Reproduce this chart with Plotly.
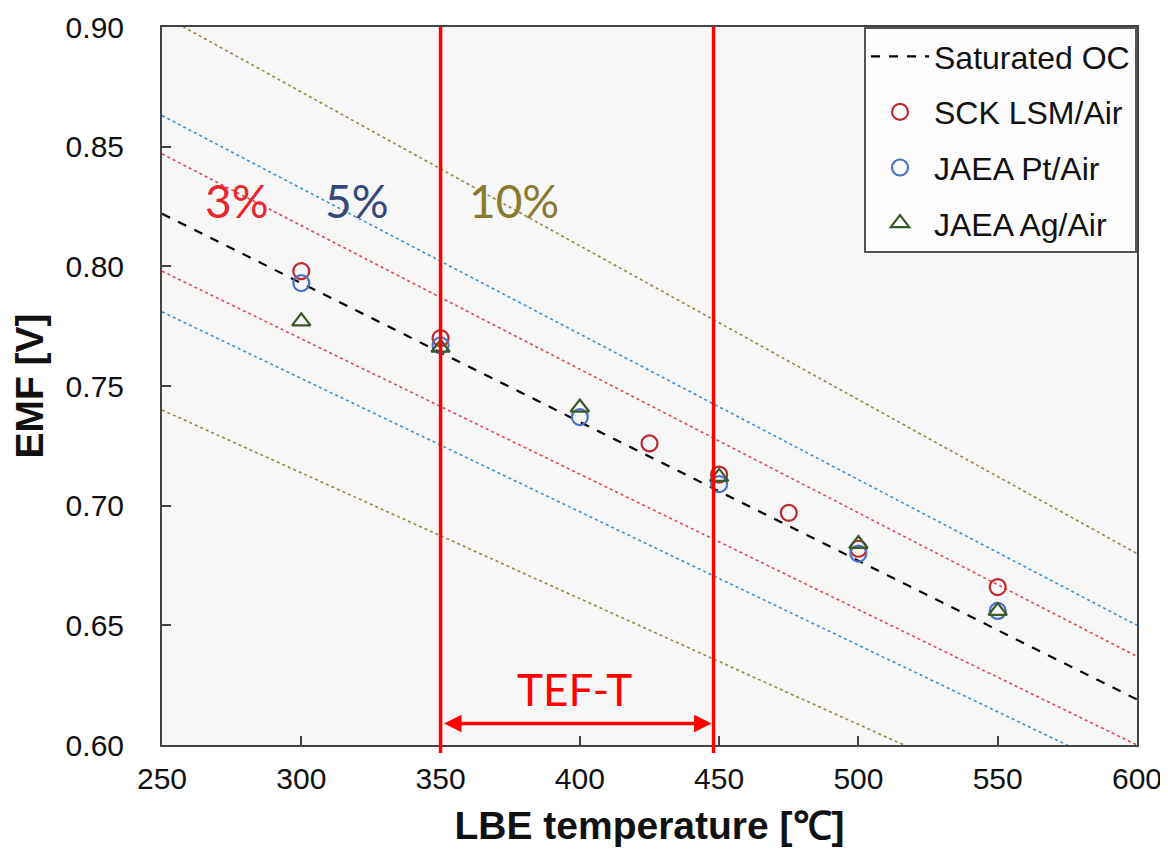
import plotly.graph_objects as go

# ---- data ----
temp_ends = [250, 600]
sat_oc = [0.822, 0.619]
band_3_up = [0.847, 0.637]
band_3_lo = [0.798, 0.600]
band_5_up = [0.863, 0.650]
band_5_lo = [0.781, 0.586]
band_10_up = [0.905, 0.680]
band_10_lo = [0.740, 0.556]

sck_t = [300, 350, 425, 450, 475, 500, 550]
sck_emf = [0.798, 0.770, 0.726, 0.713, 0.697, 0.682, 0.666]
pt_t = [300, 350, 400, 450, 500, 550]
pt_emf = [0.793, 0.767, 0.737, 0.709, 0.680, 0.656]
ag_t = [300, 350, 400, 450, 500, 550]
ag_emf = [0.777, 0.766, 0.741, 0.712, 0.684, 0.656]

tef_bounds = [350, 448]
x_ticks = [250, 300, 350, 400, 450, 500, 550, 600]
y_ticks = [0.60, 0.65, 0.70, 0.75, 0.80, 0.85, 0.90]

RED_DOT = "#e8454f"
BLUE_DOT = "#3f8fd2"
OLIVE_DOT = "#9a8840"

fig = go.Figure()

bands = [
    (band_10_up, OLIVE_DOT), (band_10_lo, OLIVE_DOT),
    (band_5_up, BLUE_DOT), (band_5_lo, BLUE_DOT),
    (band_3_up, RED_DOT), (band_3_lo, RED_DOT),
]
for vals, col in bands:
    fig.add_trace(go.Scatter(x=temp_ends, y=vals, mode="lines",
                             line=dict(color=col, width=1.6, dash="dot"),
                             showlegend=False, hoverinfo="skip"))

fig.add_trace(go.Scatter(x=temp_ends, y=sat_oc, mode="lines", name="Saturated OC",
                         line=dict(color="black", width=2.2, dash="dash"),
                         legendgroup="a"))
fig.add_trace(go.Scatter(x=sck_t, y=sck_emf, mode="markers", name="SCK LSM/Air",
                         marker=dict(symbol="circle-open", size=16,
                                     line=dict(color="#c0262d", width=2.2), color="#c0262d"),
                         legendgroup="b"))
fig.add_trace(go.Scatter(x=pt_t, y=pt_emf, mode="markers", name="JAEA Pt/Air",
                         marker=dict(symbol="circle-open", size=16,
                                     line=dict(color="#4a72c8", width=2.2), color="#4a72c8"),
                         legendgroup="c"))
fig.add_trace(go.Scatter(x=ag_t, y=ag_emf, mode="markers", name="JAEA Ag/Air",
                         marker=dict(symbol="triangle-up-open", size=16,
                                     line=dict(color="#3a5a28", width=2.2), color="#3a5a28"),
                         legendgroup="d"))

for xb in tef_bounds:
    fig.add_shape(type="line", xref="x", yref="paper", x0=xb, x1=xb, y0=-0.011, y1=1.0,
                  line=dict(color="#ff0000", width=3.5), layer="above")

fig.add_annotation(x=tef_bounds[1], y=0.609, ax=tef_bounds[0], ay=0.609,
                   xref="x", yref="y", axref="x", ayref="y", text="",
                   showarrow=True, arrowhead=2, arrowside="end+start",
                   arrowsize=1.0, arrowwidth=3.5, arrowcolor="#ff0000", standoff=2, startstandoff=2)
fig.add_annotation(x=398, y=0.6232, xref="x", yref="y", text="TEF-T", showarrow=False,
                   font=dict(family="Lato", size=44, color="#ff0000"))

labels = [("3%", 277, "#e8262e"), ("5%", 320, "#34487a"), ("10%", 376.5, "#8a7a30")]
for txt, xp, col in labels:
    fig.add_annotation(x=xp, y=0.8274, xref="x", yref="y", text=txt, showarrow=False,
                       font=dict(family="Lato", size=46, color=col))

axis_common = dict(showline=True, linecolor="#444444", linewidth=2, mirror=True,
                   ticks="inside", ticklen=9, tickwidth=2, tickcolor="#444444",
                   showgrid=False, zeroline=False, automargin=False,
                   tickfont=dict(family="Arial, Liberation Sans", size=30, color="#111111"))

fig.update_layout(
    width=1160, height=843,
    margin=dict(l=154, r=31, t=19, b=106),
    paper_bgcolor="white", plot_bgcolor="#f7f7f7",
    font=dict(family="Arial, Liberation Sans", color="#111111"),
    xaxis=dict(range=[250, 600], tickvals=x_ticks, ticklabelstandoff=6,
               title=dict(text="<b>LBE temperature [℃]</b>", standoff=18,
                          font=dict(size=39, family="Arial, Liberation Sans")),
               **axis_common),
    yaxis=dict(range=[0.60, 0.90], tickvals=y_ticks, tickformat=".2f", ticklabelstandoff=30,
               title=dict(text="<b>EMF [V]</b>", standoff=10,
                          font=dict(size=39, family="Arial, Liberation Sans")),
               **axis_common),
    legend=dict(x=1, y=1, xanchor="right", yanchor="top",
                bgcolor="#fcfcfc", bordercolor="#555555", borderwidth=2,
                font=dict(size=32, family="Arial, Liberation Sans", color="#111111"),
                tracegroupgap=11, traceorder="grouped", itemwidth=58),
    showlegend=True,
)

fig.write_html("out.html")
